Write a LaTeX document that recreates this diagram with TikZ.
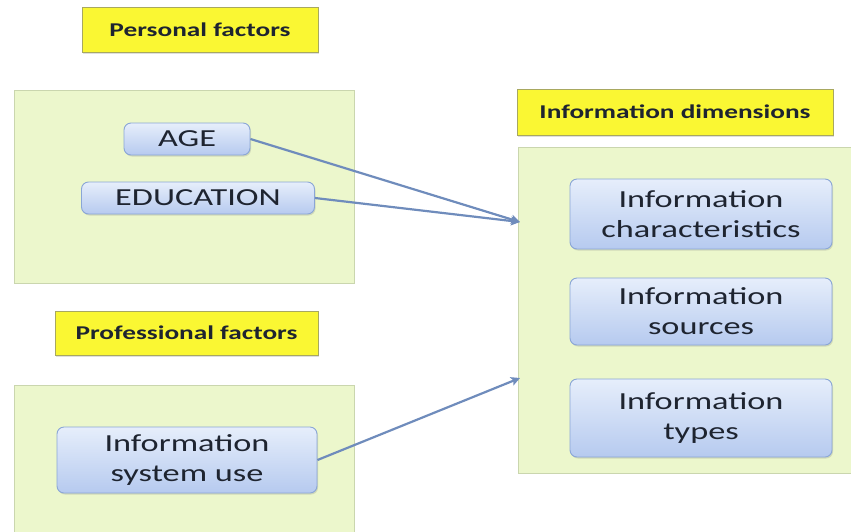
\documentclass[tikz,border=0pt]{standalone}
\usepackage{fontspec}
\newfontfamily\calf[FakeStretch=1.4]{Carlito}
\usetikzlibrary{arrows.meta,shadows}
\definecolor{lblfill}{HTML}{FAF733}
\definecolor{lbldraw}{HTML}{A8A860}
\definecolor{grnfill}{HTML}{ECF7CC}
\definecolor{grndraw}{HTML}{CAD6AE}
\definecolor{nodetop}{HTML}{E6EEFB}
\definecolor{nodebot}{HTML}{B6CAEF}
\definecolor{nodedraw}{HTML}{8AA6D6}
\definecolor{arrc}{HTML}{6F8CBC}
\definecolor{txt}{HTML}{1E2430}
\tikzset{
  x=1pt,y=1pt,
  lbl/.style={draw=lbldraw, fill=lblfill, line width=0.8pt, inner sep=0pt,
    font=\calf\bfseries\fontsize{19.5}{23}\selectfont, text=txt,
    drop shadow={opacity=0.25, shadow xshift=1pt, shadow yshift=-1.5pt}},
  grp/.style={draw=grndraw, fill=grnfill, line width=1pt},
  item/.style={draw=nodedraw, line width=0.9pt, rounded corners=7pt,
    top color=nodetop, bottom color=nodebot, inner sep=0pt, align=center,
    font=\calf\fontsize{24.5}{30}\selectfont, text=txt,
    drop shadow={opacity=0.25, shadow xshift=1pt, shadow yshift=-1.5pt}},
  conn/.style={draw=arrc, line width=2.2pt, -{Stealth[length=9pt,width=9pt,inset=2pt]}}
}
\begin{document}
\begin{tikzpicture}
\useasboundingbox (0,0) rectangle (851,-531);
\clip (0,0) rectangle (851,-531);
% group boxes
\draw[grp] (14,-90) rectangle (354,-283);
\draw[grp] (14,-385) rectangle (354,-545);
\draw[grp] (518,-147) rectangle (858,-473);
% labels
\node[lbl, minimum width=236pt, minimum height=45pt] (pfl) at (200,-29.5) {Personal factors};
\node[lbl, minimum width=263pt, minimum height=44pt] (prl) at (186.5,-333) {Professional factors};
\node[lbl, minimum width=316pt, minimum height=46pt] (idl) at (675,-112) {Information dimensions};
% items
\node[item, minimum width=126pt, minimum height=32pt] (age) at (187,-139) {AGE};
\node[item, minimum width=233pt, minimum height=32pt] (edu) at (198,-198) {EDUCATION};
\node[item, minimum width=260pt, minimum height=66pt] (isu) at (187,-460) {Information\\system use};
\node[item, minimum width=262pt, minimum height=70pt] (ic) at (701,-214) {Information\\characteristics};
\node[item, minimum width=262pt, minimum height=67pt] (is) at (701,-311.5) {Information\\sources};
\node[item, minimum width=262pt, minimum height=78pt] (it) at (701,-418) {Information\\types};
% connectors
\coordinate (t1) at (520,-222);
\coordinate (t2) at (520,-378);
\draw[conn] (age.east) -- (t1);
\draw[conn] (edu.east) -- (t1);
\draw[conn] (isu.east) -- (t2);
\end{tikzpicture}
\end{document}
